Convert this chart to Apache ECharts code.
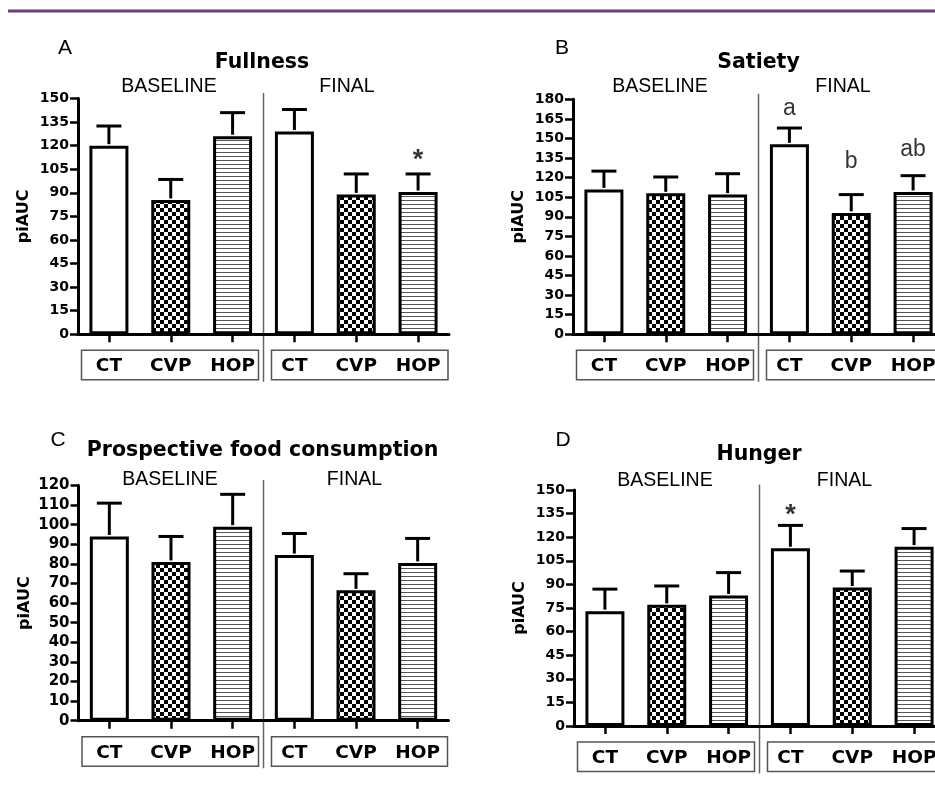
<!DOCTYPE html>
<html>
<head>
<meta charset="utf-8">
<script src="https://cdn.jsdelivr.net/npm/echarts@6/dist/echarts.min.js"></script>
<style>
html,body{margin:0;padding:0;background:#fff;}
#chart{width:935px;height:791px;}
</style>
</head>
<body>
<div id="chart"></div>
<script>
// ---------- data ----------
const categories = ['CT', 'CVP', 'HOP', 'CT', 'CVP', 'HOP'];
const groupLabels = ['BASELINE', 'FINAL'];
const panelLetters = ['A', 'B', 'C', 'D'];
const panelTitles = ['Fullness', 'Satiety', 'Prospective food consumption', 'Hunger'];
const yAxisName = 'piAUC';

const meansFullness = [120, 85.5, 126, 129, 89, 90.5];
const semFullness   = [12.5, 13, 15, 14, 13, 11.5];
const meansSatiety  = [111, 108, 107, 145.5, 93, 109];
const semSatiety    = [14, 12.5, 16, 12.5, 14, 12.5];
const meansProspective = [94, 81, 99, 84.5, 66.5, 80.5];
const semProspective   = [17, 13, 16.5, 11, 8.5, 12.5];
const meansHunger   = [73, 77, 83, 113, 88, 114];
const semHunger     = [14, 12, 14.5, 14.5, 10.5, 11.5];

const yMaxes = [150, 180, 120, 150];
const yIntervals = [15, 15, 10, 15];

// annotations: panel, category index, value position, text
const annotPanel = [0, 1, 1, 1, 3];
const annotIndex = [5, 3, 4, 5, 3];
const annotValue = [110.5, 173, 132.5, 141.5, 134];
const annotText  = ['*', 'a', 'b', 'ab', '*'];

const fillKinds = ['white', 'checker', 'lines', 'white', 'checker', 'lines'];

// ---------- layout ----------
const grids = [
  {left: 78,   top: 98.5,  width: 371, height: 235.8},
  {left: 573,  top: 99.3,  width: 371, height: 235},
  {left: 78.5, top: 485.5, width: 370, height: 235.2},
  {left: 574,  top: 490,   width: 371, height: 236}
];
const tickFont = [14, 14, 15, 14];
const letterPos = [[65, 48], [562, 48], [58, 440], [563, 440]];
const titlePos = [[262, 63], [758.5, 63], [262.5, 451], [759, 455]];
const groupLabelPos = [[[169, 87], [347, 87]], [[660, 87], [843, 87]], [[170, 479.5], [354.5, 479.5]], [[665, 480.5], [844.5, 480.5]]];

// ---------- patterns ----------
function makeChecker() {
  const c = document.createElement('canvas');
  c.width = 8; c.height = 8;
  const g = c.getContext('2d');
  g.fillStyle = '#fff'; g.fillRect(0, 0, 8, 8);
  g.fillStyle = '#000'; g.fillRect(0, 0, 4, 4); g.fillRect(4, 4, 4, 4);
  return c;
}
function makeLines() {
  const c = document.createElement('canvas');
  c.width = 4; c.height = 4;
  const g = c.getContext('2d');
  g.fillStyle = '#fff'; g.fillRect(0, 0, 4, 4);
  g.fillStyle = '#555'; g.fillRect(0, 0, 4, 1);
  return c;
}
const fills = {
  white: '#ffffff',
  checker: {image: makeChecker(), repeat: 'repeat'},
  lines: {image: makeLines(), repeat: 'repeat'}
};

const allMeans = [meansFullness, meansSatiety, meansProspective, meansHunger];
const allSem = [semFullness, semSatiety, semProspective, semHunger];

const BOLD = 'DejaVu Sans';
const REG = 'Liberation Sans';

const chart = echarts.init(document.getElementById('chart'), null, {renderer: 'canvas'});

const gridOpt = [], xAxes = [], yAxes = [], series = [], graphics = [];

graphics.push({type: 'line', shape: {x1: 8, y1: 11, x2: 935, y2: 11}, style: {stroke: '#6b3f7d', lineWidth: 3}});

for (let p = 0; p < 4; p++) {
  const g = grids[p];
  gridOpt.push({left: g.left, top: g.top, width: g.width, height: g.height, containLabel: false, outerBoundsMode: 'none'});
  xAxes.push({
    type: 'category', gridIndex: p, data: categories,
    axisLine: {show: true, lineStyle: {color: '#000', width: 3}},
    axisTick: {show: true, alignWithLabel: true, length: 8, lineStyle: {color: '#000', width: 2.5}},
    axisLabel: {show: true, interval: 0, margin: 32, verticalAlign: 'middle', color: '#000',
      fontFamily: BOLD, fontWeight: 'bold', fontSize: 18.5},
    splitLine: {show: false}
  });
  yAxes.push({
    type: 'value', gridIndex: p, min: 0, max: yMaxes[p], interval: yIntervals[p],
    axisLine: {show: true, lineStyle: {color: '#000', width: 3}},
    axisTick: {show: true, length: 8, lineStyle: {color: '#000', width: 2.5}},
    axisLabel: {show: true, margin: 9, color: '#000', fontFamily: BOLD, fontWeight: 'bold', fontSize: tickFont[p]},
    splitLine: {show: false},
    name: yAxisName, nameLocation: 'middle', nameGap: 46,
    nameTextStyle: {color: '#000', fontFamily: BOLD, fontWeight: 'bold', fontSize: 16}
  });
  series.push({
    type: 'bar', xAxisIndex: p, yAxisIndex: p, barWidth: 39,
    data: allMeans[p].map((v, j) => ({value: v, itemStyle: {color: fills[fillKinds[j]]}})),
    itemStyle: {borderColor: '#000', borderWidth: 3},
    emphasis: {disabled: true}, silent: true, z: 2
  });
  series.push({
    type: 'custom', xAxisIndex: p, yAxisIndex: p,
    encode: {x: 0, y: [1, 2]},
    data: allMeans[p].map((v, j) => [j, v, v + allSem[p][j]]),
    renderItem: function (params, api) {
      const x = api.value(0);
      const a = api.coord([x, api.value(1)]);
      const b = api.coord([x, api.value(2)]);
      const st = {stroke: '#000', lineWidth: 3};
      return {type: 'group', children: [
        {type: 'line', shape: {x1: a[0], y1: a[1] - 1.5, x2: b[0], y2: b[1]}, style: st},
        {type: 'line', shape: {x1: b[0] - 12.5, y1: b[1], x2: b[0] + 12.5, y2: b[1]}, style: st}
      ]};
    },
    silent: true, z: 3
  });
  const ann = [];
  for (let k = 0; k < annotPanel.length; k++) {
    if (annotPanel[k] === p) {
      const star = annotText[k] === '*';
      ann.push({
        value: [annotIndex[k], annotValue[k], annotText[k]],
        label: {fontSize: star ? 27 : 23, fontWeight: star ? 'bold' : 'normal'}
      });
    }
  }
  if (ann.length) {
    series.push({
      type: 'scatter', xAxisIndex: p, yAxisIndex: p, symbolSize: 0, silent: true,
      data: ann,
      label: {show: true, position: 'inside', formatter: (d) => d.value[2], color: '#000',
        fontFamily: REG, fontSize: 23},
      z: 4
    });
  }
  // separators and category boxes
  const sepX = g.left + g.width / 2;
  const bottom = g.top + g.height;
  graphics.push({type: 'line', shape: {x1: sepX, y1: g.top - 5.5, x2: sepX, y2: bottom + 47.5}, style: {stroke: '#666', lineWidth: 1.5}});
  graphics.push({type: 'rect', shape: {x: g.left + 3.5, y: bottom + 16, width: sepX - 5 - (g.left + 3.5), height: 29.5}, style: {fill: 'none', stroke: '#555', lineWidth: 1.5}});
  graphics.push({type: 'rect', shape: {x: sepX + 8, y: bottom + 16, width: g.left + g.width - 1 - (sepX + 8), height: 29.5}, style: {fill: 'none', stroke: '#555', lineWidth: 1.5}});
  // texts
  graphics.push({type: 'text', x: letterPos[p][0], y: letterPos[p][1], style: {text: panelLetters[p], fontFamily: REG, fontSize: 21, fill: '#000', align: 'center', verticalAlign: 'middle'}});
  graphics.push({type: 'text', x: titlePos[p][0], y: titlePos[p][1], style: {text: panelTitles[p], fontFamily: BOLD, fontWeight: 'bold', fontSize: 20.5, fill: '#000', align: 'center', verticalAlign: 'middle'}});
  for (let q = 0; q < 2; q++) {
    graphics.push({type: 'text', x: groupLabelPos[p][q][0], y: groupLabelPos[p][q][1], style: {text: groupLabels[q], fontFamily: REG, fontSize: 19.5, fill: '#000', align: 'center', verticalAlign: 'middle'}});
  }
}

chart.setOption({
  backgroundColor: '#ffffff',
  animation: false,
  grid: gridOpt,
  xAxis: xAxes,
  yAxis: yAxes,
  series: series,
  graphic: {elements: graphics}
});
</script>
</body>
</html>
